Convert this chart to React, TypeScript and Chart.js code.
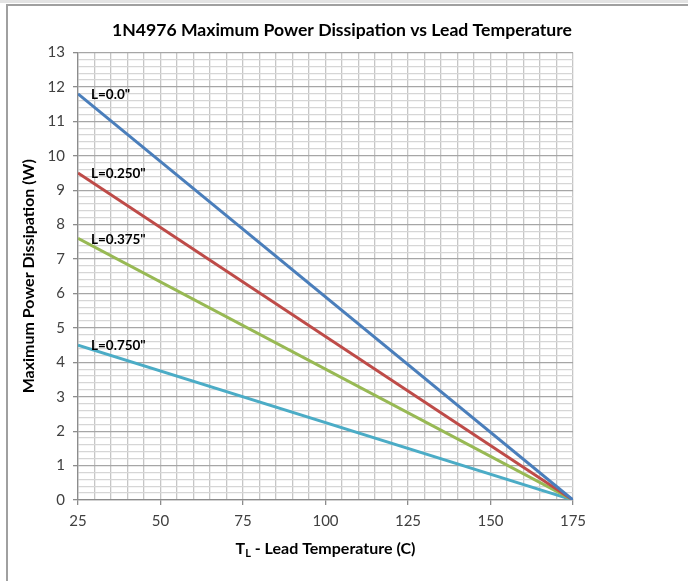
import React, { useEffect, useRef } from 'react';
import { Chart, registerables } from 'chart.js';

Chart.register(...registerables);

const CHART_TITLE = '1N4976 Maximum Power Dissipation vs Lead Temperature';
const X_TITLE_MAIN = 'T';
const X_TITLE_SUB = 'L';
const X_TITLE_REST = ' - Lead Temperature (C)';
const Y_TITLE = 'Maximum Power Dissipation (W)';

const temperatures = [25, 175];
const powerL0000 = [11.8, 0];
const powerL0250 = [9.5, 0];
const powerL0375 = [7.6, 0];
const powerL0750 = [4.5, 0];
const seriesLabels = ['L=0.0"', 'L=0.250"', 'L=0.375"', 'L=0.750"'];
const seriesValues = [powerL0000, powerL0250, powerL0375, powerL0750];
const seriesColors = ['#4A7EBB', '#BE4B48', '#98B954', '#4BACC6'];

const FONT = "Lato, 'Liberation Sans', sans-serif";

const isInt = (v: number, step: number) => Math.abs(v / step - Math.round(v / step)) < 1e-6;

const textPlugin = {
  id: 'textPlugin',
  afterDatasetsDraw(chart: any) {
    const ctx = chart.ctx;
    ctx.save();
    ctx.fillStyle = '#000000';
    ctx.textBaseline = 'middle';
    ctx.textAlign = 'left';
    ctx.font = `bold 13.5px ${FONT}`;
    chart.data.datasets.forEach((ds: any, i: number) => {
      const meta = chart.getDatasetMeta(i);
      const p = meta.data[0];
      ctx.fillText(ds.label, p.x + 13, p.y + 1);
    });
    ctx.restore();
  },
  afterDraw(chart: any) {
    const ctx = chart.ctx;
    const area = chart.chartArea;
    ctx.save();
    ctx.fillStyle = '#000000';
    ctx.textBaseline = 'middle';
    ctx.textAlign = 'center';
    ctx.font = `bold 17.6px ${FONT}`;
    ctx.fillText(CHART_TITLE, 342, 30);

    // x title with subscript
    ctx.textAlign = 'left';
    ctx.font = `bold 16px ${FONT}`;
    const wMain = ctx.measureText(X_TITLE_MAIN).width;
    const wRest = ctx.measureText(X_TITLE_REST).width;
    ctx.font = `bold 11px ${FONT}`;
    const wSub = ctx.measureText(X_TITLE_SUB).width;
    const total = wMain + wSub + wRest;
    let x = (area.left + area.right) / 2 - total / 2;
    const y = 549;
    ctx.font = `bold 16px ${FONT}`;
    ctx.fillText(X_TITLE_MAIN, x, y);
    x += wMain;
    ctx.font = `bold 11px ${FONT}`;
    ctx.fillText(X_TITLE_SUB, x, y + 4);
    x += wSub;
    ctx.font = `bold 16px ${FONT}`;
    ctx.fillText(X_TITLE_REST, x, y);
    ctx.restore();
  },
};

export default function App() {
  const canvasRef = useRef<HTMLCanvasElement | null>(null);

  useEffect(() => {
    if (!canvasRef.current) return;
    const datasets = seriesValues.map((vals, i) => ({
      label: seriesLabels[i],
      data: temperatures.map((t, j) => ({ x: t, y: vals[j] })),
      borderColor: seriesColors[i],
      backgroundColor: seriesColors[i],
      borderWidth: 3,
      pointRadius: 0,
      tension: 0,
      fill: false,
    }));
    const chart = new Chart(canvasRef.current, {
      type: 'line',
      data: { datasets },
      plugins: [textPlugin],
      options: {
        responsive: false,
        animation: false,
        events: [],
        layout: { padding: { left: 0, top: 52.5, right: 115, bottom: 0 } },
        plugins: {
          legend: { display: false },
          title: { display: false },
          tooltip: { enabled: false },
        },
        scales: {
          x: {
            type: 'linear',
            min: 25,
            max: 175,
            afterFit: (scale: any) => {
              scale.height = 81;
            },
            ticks: {
              stepSize: 5,
              autoSkip: false,
              maxTicksLimit: 100,
              maxRotation: 0,
              padding: 7,
              color: '#404040',
              font: { family: FONT, size: 15 },
              callback: (v: any) => (isInt(Number(v), 25) ? String(v) : ''),
            },
            grid: {
              color: '#c6c6c6',
              lineWidth: 1.3,
              tickLength: 5,
              tickColor: (c: any) => (c.tick && isInt(c.tick.value, 25) ? '#8c8c8c' : 'rgba(0,0,0,0)'),
            },
            border: { color: '#8c8c8c', width: 1.3 },
          },
          y: {
            type: 'linear',
            min: 0,
            max: 13,
            afterFit: (scale: any) => {
              scale.width = 78;
            },
            title: {
              display: true,
              text: Y_TITLE,
              color: '#000000',
              font: { family: FONT, size: 16, weight: 'bold' },
              padding: { top: 19, bottom: 0 },
            },
            ticks: {
              stepSize: 0.2,
              autoSkip: false,
              maxTicksLimit: 100,
              padding: 8,
              color: '#404040',
              font: { family: FONT, size: 15 },
              callback: (v: any) => (isInt(Number(v), 1) ? String(Math.round(Number(v))) : ''),
            },
            grid: {
              color: (c: any) => (c.tick && isInt(c.tick.value, 1) ? '#a6a6a6' : '#d6d6d6'),
              lineWidth: 1.3,
              tickLength: 5,
              tickColor: (c: any) => (c.tick && isInt(c.tick.value, 1) ? '#8c8c8c' : 'rgba(0,0,0,0)'),
            },
            border: { color: '#8c8c8c', width: 1.3 },
          },
        },
      } as any,
    });
    return () => chart.destroy();
  }, []);

  return (
    <div style={{ position: 'absolute', left: 0, top: 0, width: 688, height: 581, background: '#ffffff', overflow: 'hidden' }}>
      <div style={{ position: 'absolute', left: 0, top: 0, width: 688, height: 3, background: '#e3e3e3' }} />
      <div
        style={{
          position: 'absolute',
          left: 6,
          top: 4,
          width: 700,
          height: 600,
          borderTop: '2px solid #a0a0a0',
          borderLeft: '2px solid #a0a0a0',
        }}
      />
      <canvas ref={canvasRef} width={688} height={581} style={{ position: 'absolute', left: 0, top: 0 }} />
    </div>
  );
}
